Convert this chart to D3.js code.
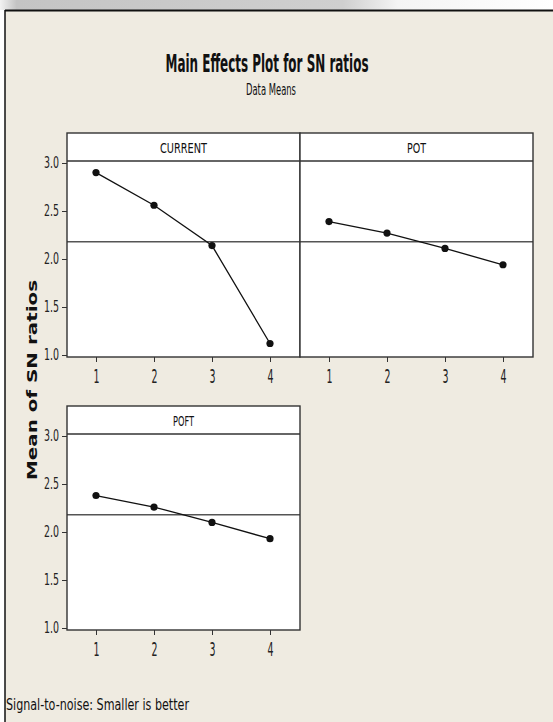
<!DOCTYPE html>
<html><head><meta charset="utf-8">
<script src="https://cdn.jsdelivr.net/npm/d3@7"></script>
<style>
html,body{margin:0;padding:0;background:#fff;}
svg{display:block;}
.cond{font-family:'DejaVu Sans Condensed','DejaVu Sans',sans-serif;font-stretch:condensed;}
</style></head>
<body>
<script>
// ---- data ----
const factors = ["CURRENT", "POT", "POFT"];
const levels = [1, 2, 3, 4];
const currentValues = [2.90, 2.56, 2.14, 1.12];
const potValues = [2.39, 2.27, 2.11, 1.94];
const poftValues = [2.38, 2.26, 2.10, 1.93];
const yTicks = [1.0, 1.5, 2.0, 2.5, 3.0];
const titleText = "Main Effects Plot for SN ratios";
const subtitleText = "Data Means";
const yTitle = "Mean of SN ratios";
const footerText = "Signal-to-noise: Smaller is better";

const seriesByFactor = [currentValues, potValues, poftValues];
const overallMean = d3.mean(currentValues);

const W = 553, H = 722;
const svg = d3.select("body").append("svg").attr("width", W).attr("height", H);

// background
const defs = svg.append("defs");
const g1 = defs.append("linearGradient").attr("id", "topg").attr("x1", "0").attr("x2", "1");
g1.append("stop").attr("offset", "0").attr("stop-color", "#f2f2f2");
g1.append("stop").attr("offset", "0.03").attr("stop-color", "#c4c4c4");
g1.append("stop").attr("offset", "0.62").attr("stop-color", "#cfcfcf");
g1.append("stop").attr("offset", "0.72").attr("stop-color", "#f4f4f4");
g1.append("stop").attr("offset", "1").attr("stop-color", "#ffffff");
svg.append("rect").attr("x", 0).attr("y", 0).attr("width", W).attr("height", 10).attr("fill", "url(#topg)");
svg.append("rect").attr("x", 5).attr("y", 10).attr("width", W - 5).attr("height", H - 10).attr("fill", "#efebe1");
svg.append("line").attr("x1", 5).attr("x2", W).attr("y1", 10.5).attr("y2", 10.5).attr("stroke", "#111").attr("stroke-width", 2);
svg.append("line").attr("x1", 5).attr("x2", 5).attr("y1", 10).attr("y2", H).attr("stroke", "#111").attr("stroke-width", 1.5);

// titles
svg.append("text").attr("class", "cond").attr("x", 267).attr("y", 72).attr("text-anchor", "middle")
  .attr("font-size", 24).attr("font-weight", "bold").attr("fill", "#111")
  .attr("textLength", 203).attr("lengthAdjust", "spacingAndGlyphs").text(titleText);
svg.append("text").attr("class", "cond").attr("x", 271).attr("y", 95).attr("text-anchor", "middle")
  .attr("font-size", 16).attr("fill", "#111")
  .attr("textLength", 50).attr("lengthAdjust", "spacingAndGlyphs").text(subtitleText);

// y-axis title
svg.append("text").attr("transform", "translate(37,380) rotate(-90)").attr("text-anchor", "middle")
  .attr("font-family", "'DejaVu Sans',sans-serif").attr("font-weight", "bold").attr("font-size", 14)
  .attr("fill", "#111").attr("textLength", 200).attr("lengthAdjust", "spacingAndGlyphs").text(yTitle);

// footer
svg.append("text").attr("class", "cond").attr("x", 6).attr("y", 710).attr("font-size", 15)
  .attr("fill", "#111").attr("textLength", 183).attr("lengthAdjust", "spacingAndGlyphs").text(footerText);

// panels
const panelW = 233, stripH = 28, plotH = 196;
const layout = [{x: 67, y: 133}, {x: 300, y: 133}, {x: 67, y: 406}];
const stripLabelW = {CURRENT: 47, POT: 19, POFT: 21};

factors.forEach((f, i) => {
  const L = layout[i];
  const top = L.y, stripBottom = L.y + stripH, bottom = stripBottom + plotH;
  const x = d3.scalePoint().domain(levels).range([L.x + 29, L.x + panelW - 30]);
  const y = d3.scaleLinear().domain([1, 3]).range([bottom - 2, stripBottom + 2]);
  const g = svg.append("g");

  g.append("rect").attr("x", L.x).attr("y", top).attr("width", panelW).attr("height", stripH + plotH)
    .attr("fill", "#fff");

  // mean line
  g.append("line").attr("x1", L.x).attr("x2", L.x + panelW).attr("y1", y(overallMean)).attr("y2", y(overallMean))
    .attr("stroke", "#555").attr("stroke-width", 1.6);

  // data line
  const vals = seriesByFactor[i];
  const pts = levels.map((lv, k) => [lv, vals[k]]);
  g.append("path").datum(pts).attr("fill", "none").attr("stroke", "#111").attr("stroke-width", 1.3)
    .attr("d", d3.line().x(d => x(d[0])).y(d => y(d[1])));
  g.selectAll("circle").data(pts).enter().append("circle")
    .attr("cx", d => x(d[0])).attr("cy", d => y(d[1])).attr("r", 3.6).attr("fill", "#111");

  // frame
  g.append("rect").attr("x", L.x).attr("y", top).attr("width", panelW).attr("height", stripH + plotH)
    .attr("fill", "none").attr("stroke", "#333").attr("stroke-width", 1.4);
  g.append("line").attr("x1", L.x).attr("x2", L.x + panelW).attr("y1", stripBottom).attr("y2", stripBottom)
    .attr("stroke", "#333").attr("stroke-width", 1.4);
  g.append("text").attr("class", "cond").attr("x", L.x + panelW / 2).attr("y", top + 20)
    .attr("text-anchor", "middle").attr("font-size", 14).attr("fill", "#111")
    .attr("textLength", stripLabelW[f]).attr("lengthAdjust", "spacingAndGlyphs").text(f);

  // x axis
  const xa = g.append("g").attr("transform", `translate(0,${bottom})`)
    .call(d3.axisBottom(x).tickSize(5).tickPadding(8));
  xa.select(".domain").remove();
  xa.attr("font-family", null).attr("font-size", null);
  xa.selectAll("line").attr("stroke", "#333");
  xa.selectAll("text").attr("class", "cond").attr("font-size", 19).attr("fill", "#222")
    .attr("textLength", 6).attr("lengthAdjust", "spacingAndGlyphs");

  // y axis (left column only)
  if (L.x === 67) {
    const ya = g.append("g").attr("transform", `translate(${L.x},0)`)
      .call(d3.axisLeft(y).tickValues(yTicks).tickFormat(d3.format(".1f")).tickSize(5).tickPadding(3));
    ya.select(".domain").remove();
    ya.attr("font-family", null).attr("font-size", null);
    ya.selectAll("line").attr("stroke", "#333");
    ya.selectAll("text").attr("class", "cond").attr("font-size", 15).attr("fill", "#222")
      .attr("textLength", 15).attr("lengthAdjust", "spacingAndGlyphs");
  }
});
</script>
</body></html>
